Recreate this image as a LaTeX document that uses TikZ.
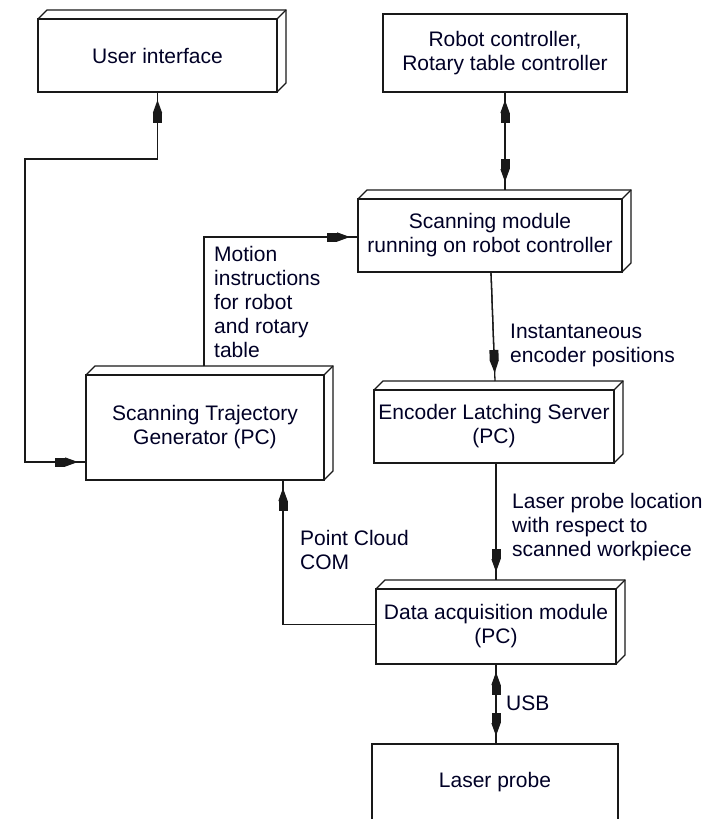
\documentclass[tikz,border=0pt]{standalone}
\usepackage{fontspec}
\setmainfont{Liberation Sans}
\usetikzlibrary{arrows.meta}
\newcommand\threedface[1]{%
  \draw[faceline] (#1.north west) -- ++(9,-9) -- ([shift={(9pt,9pt)}]#1.north east) -- ([shift={(9pt,9pt)}]#1.south east) -- (#1.south east);
  \draw[faceline] (#1.north east) -- ++(9,-9);}
\begin{document}
\begin{tikzpicture}[x=1pt,y=-1pt,
  faceline/.style={line width=1.3pt, line join=miter, draw=black!90},
  box/.style={draw=black!90, line width=1.3pt, rectangle, align=center, inner sep=0pt, outer sep=0pt,
    font=\fontsize{21}{24}\selectfont, text=black!85!blue},
  lbl/.style={align=left, anchor=west, inner sep=0pt, font=\fontsize{21}{24}\selectfont, text=black!85!blue},
  conn/.style={line width=1.3pt, draw=black!90},
  hend/.style={conn, shorten >=8pt, -{Rectangle[length=10pt,width=9pt]Triangle[length=13pt,width=9pt]}},
  hboth/.style={conn, shorten >=8pt, shorten <=8pt,
    {Triangle[length=13pt,width=9pt]Rectangle[length=10pt,width=9pt]}-{Rectangle[length=10pt,width=9pt]Triangle[length=13pt,width=9pt]}},
]
\useasboundingbox (0,0) rectangle (710,819);
\clip (0,0) rectangle (710,819);
\fill[white] (0,0) rectangle (710,819);

% boxes
\node[box, minimum width=239pt, minimum height=73pt] (ui) at (157.5,55.5) {User interface};
\node[box, minimum width=244pt, minimum height=78pt] (rc) at (505,53) {Robot controller,\\Rotary table controller};
\node[box, minimum width=264pt, minimum height=73pt] (sm) at (490,235.5) {Scanning module\\running on robot controller};
\node[box, minimum width=240pt, minimum height=73pt] (els) at (494,426.5) {Encoder Latching Server\\(PC)};
\node[box, minimum width=238pt, minimum height=105pt] (stg) at (205,427.5) {Scanning Trajectory\\Generator (PC)};
\node[box, minimum width=240pt, minimum height=75pt] (dam) at (496,626.5) {Data acquisition module\\(PC)};
\node[box, minimum width=246pt, minimum height=76pt] (lp) at (495,782) {Laser probe};

\threedface{ui}
\threedface{sm}
\threedface{els}
\threedface{stg}
\threedface{dam}

% helper coordinates
\coordinate (a1) at (157.5,159);
\coordinate (a2) at (25,159);
\coordinate (a3) at (25,462);
\coordinate (b0) at (204,366);
\coordinate (b1) at (204,237);
\coordinate (smtop) at (505,190);
\coordinate (c1) at (283,624.5);

% connectors
\draw[conn] (ui.south) -- (a1) -- (a2) -- (a3) -- (stg.west |- a3);
\draw[hboth] (ui.south) -- (a1) -- (a2) -- (a3) -- (stg.west |- a3);

\draw[conn] (b0) -- (b1) -- (sm.west |- b1);
\draw[hend] (b0) -- (b1) -- (sm.west |- b1);

\draw[conn] (rc.south) -- (smtop);
\draw[hboth] (rc.south) -- (smtop);

\draw[conn] ([xshift=1pt]sm.south) -- ([xshift=1pt,yshift=9pt]els.north);
\draw[hend] ([xshift=1pt]sm.south) -- ([xshift=1pt,yshift=9pt]els.north);

\draw[conn] ([xshift=2pt]els.south) -- ([yshift=9pt]dam.north);
\draw[hend] ([xshift=2pt]els.south) -- ([yshift=9pt]dam.north);

\draw[conn] ([yshift=2pt]dam.west) -- (c1) -- (c1 |- stg.south);
\draw[hend] ([yshift=2pt]dam.west) -- (c1) -- (c1 |- stg.south);

\draw[conn] (dam.south) -- (dam.south |- lp.north);
\draw[hboth] (dam.south) -- (dam.south |- lp.north);

% labels
\node[lbl] (mi) at (214,302) {Motion\\instructions\\for robot\\and rotary\\table};
\node[lbl] (ie) at (510,345) {Instantaneous\\encoder positions};
\node[lbl] (lpl) at (512,527) {Laser probe location\\with respect to\\scanned workpiece};
\node[lbl] (pc) at (300,550) {Point Cloud\\COM};
\node[lbl] (usb) at (506,703) {USB};
\end{tikzpicture}
\end{document}
